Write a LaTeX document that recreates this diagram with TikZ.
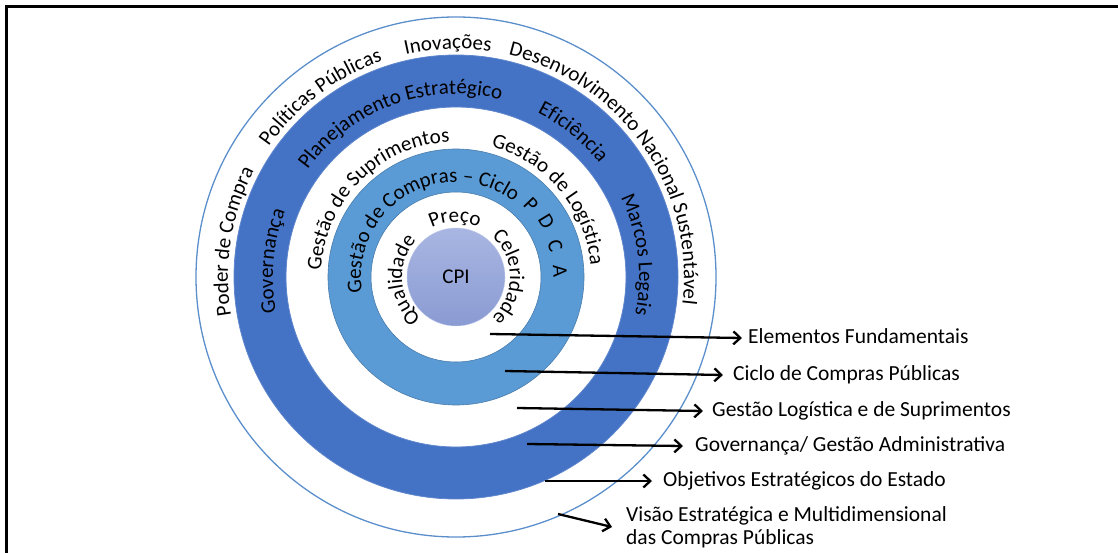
\documentclass[tikz,border=0pt]{standalone}
\usepackage{fontspec}
\setmainfont{Carlito}
\usetikzlibrary{decorations.text,arrows.meta,calc}
\definecolor{darkb}{HTML}{4472C4}
\definecolor{lightb}{HTML}{5B9BD5}
\definecolor{outerc}{HTML}{5B8FCB}
\definecolor{cpitop}{HTML}{A9B6E2}
\definecolor{cpibot}{HTML}{8A9BD3}
\newcommand\ringfont{\fontsize{21}{25}\selectfont}
\newcommand\lblfont{\fontsize{21.5}{23}\selectfont}
\newcommand\arctext[3]{\path[decorate,decoration={text along path,text align=center,text={|\ringfont|#3}}] ($(C)+({#2+90}:#1)$) arc[start angle={#2+90}, end angle={#2-90}, radius=#1];}
\begin{document}
\begin{tikzpicture}[x=1pt,y=1pt,
  arr/.style={line width=2.3pt,-{Straight Barb[length=7pt,width=13pt]}},
  lbl/.style={anchor=west,inner ysep=0pt,text height=14pt,text depth=4pt,font=\lblfont},
  letter/.style={font=\ringfont,inner sep=0pt}]
\useasboundingbox (0,0) rectangle (1118,-553);
\coordinate (C) at (456,-277);
% frame
\draw[line width=3pt] (6,-560) -- (6,-7) -- (1125,-7);
% rings
\draw[outerc,line width=1.3pt] (C) circle[radius=260];
\fill[darkb,even odd rule] (C) circle[radius=222] (C) circle[radius=170];
\draw[darkb!85!white,line width=0.8pt] (C) circle[radius=222] (C) circle[radius=170];
\fill[lightb,even odd rule] (C) circle[radius=128] (C) circle[radius=85];
\draw[lightb!80!black,line width=0.6pt] (C) circle[radius=128] (C) circle[radius=85];
\node[circle,minimum size=98pt,inner sep=0pt,top color=cpitop,bottom color=cpibot,draw=cpitop!70!white,font=\ringfont] (cpi) at (C) {CPI};
% ring texts
\arctext{228}{171}{Poder de Compra}
\arctext{228}{127}{Políticas Públicas}
\arctext{228}{92}{Inovações}
\arctext{228}{35}{Desenvolvimento Nacional Sustentável}
\arctext{183}{175}{Governança}
\arctext{183}{110}{Planejamento Estratégico}
\arctext{183}{51}{Eficiência}
\arctext{183}{7}{Marcos Legais}
\arctext{135}{135}{Gestão de Suprimentos}
\arctext{135}{40}{Gestão de Logística}
\arctext{95}{121}{Gestão de Compras – Ciclo}
\node[letter,rotate=-46.2] (lp) at ($(C)+(43.8:104)$) {P};
\node[letter,rotate=-58.7] (ld) at ($(C)+(31.3:106)$) {D};
\node[letter,rotate=-72.6] (lc) at ($(C)+(17.4:104)$) {C};
\node[letter,rotate=-86.7] (la) at ($(C)+(3.3:104)$) {A};
\arctext{54}{183.5}{Qualidade}
\arctext{55}{91}{Preço}
\arctext{54}{0}{Celeridade}
% arrows and labels
\coordinate (s1) at (490,-334);
\coordinate (s2) at (505,-371);
\coordinate (s3) at (517,-408);
\coordinate (s4) at (527,-444);
\coordinate (s5) at (545,-481);
\coordinate (s6) at (558,-514);
\node[lbl,inner xsep=6pt] (l1) at (742,-338) {Elementos Fundamentais};
\node[lbl,inner xsep=10pt] (l2) at (723,-375) {Ciclo de Compras Públicas};
\node[lbl,inner xsep=9pt] (l3) at (703,-411) {Gestão Logística e de Suprimentos};
\node[lbl,inner xsep=12pt] (l4) at (683,-446) {Governança/ Gestão Administrativa};
\node[lbl,inner xsep=11pt] (l5) at (652,-481) {Objetivos Estratégicos do Estado};
\node[anchor=west,inner xsep=14pt,inner ysep=0pt,align=left,font=\lblfont] (l6) at (612,-527) {Visão Estratégica e Multidimensional\\das Compras Públicas};
\draw[arr] (s1) -- (l1.west);
\draw[arr] (s2) -- (l2.west);
\draw[arr] (s3) -- (l3.west);
\draw[arr] (s4) -- (l4.west);
\draw[arr] (s5) -- (l5.west);
\draw[arr] (s6) -- (l6.west);
\end{tikzpicture}
\end{document}
